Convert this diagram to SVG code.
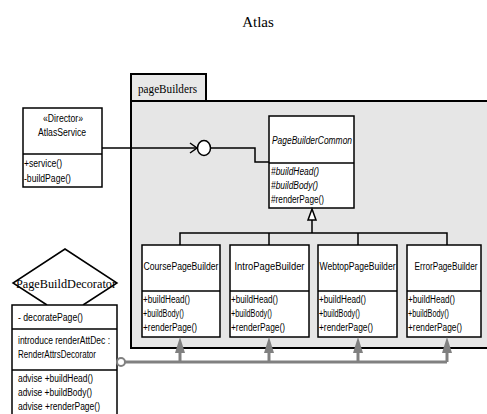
<svg xmlns="http://www.w3.org/2000/svg" width="487" height="414" viewBox="0 0 487 414">
<style>
.box{fill:#fff;stroke:#000;stroke-width:1.5}
.ln{fill:none;stroke:#000;stroke-width:1.5}
.t{font-family:"Liberation Sans",Arial,sans-serif;font-size:10px;fill:#000}
.ti{font-family:"Liberation Sans",Arial,sans-serif;font-size:10px;font-style:italic;fill:#000}
.s{font-family:"Liberation Serif","Times New Roman",serif;fill:#000}
.g{fill:none;stroke:#808080;stroke-width:3}
.gh{fill:#808080;stroke:none}
</style>
<rect width="487" height="414" fill="#fff"/>
<text class="s" x="258" y="27" font-size="15" text-anchor="middle">Atlas</text>

<g id="pageBuilders">
<rect x="131" y="74" width="75" height="27" fill="#e8e8e8" stroke="#000" stroke-width="2"/>
<rect x="131" y="101" width="360" height="247" fill="#e6e6e6" stroke="#000" stroke-width="2"/>
<text class="s" x="138" y="93" font-size="11.5" textLength="59" lengthAdjust="spacingAndGlyphs">pageBuilders</text>
</g>

<g id="AtlasService">
<rect class="box" x="23" y="108" width="79" height="79"/>
<line class="ln" x1="23" y1="154" x2="102" y2="154"/>
<text class="t" x="63" y="122" text-anchor="middle" textLength="40" lengthAdjust="spacingAndGlyphs">«Director»</text>
<text class="t" x="62" y="136" text-anchor="middle" textLength="48" lengthAdjust="spacingAndGlyphs">AtlasService</text>
<text class="t" x="24" y="167" textLength="38" lengthAdjust="spacingAndGlyphs">+service()</text>
<text class="t" x="24" y="182" textLength="47" lengthAdjust="spacingAndGlyphs">-buildPage()</text>
</g>

<g id="PageBuilderCommon">
<rect class="box" x="269" y="116" width="85" height="92"/>
<line class="ln" x1="269" y1="163" x2="354" y2="163"/>
<text class="ti" x="272" y="144" textLength="80" lengthAdjust="spacingAndGlyphs">PageBuilderCommon</text>
<text class="ti" x="271" y="175" textLength="48" lengthAdjust="spacingAndGlyphs">#buildHead()</text>
<text class="ti" x="271" y="189" textLength="47" lengthAdjust="spacingAndGlyphs">#buildBody()</text>
<text class="t" x="271" y="203" textLength="53" lengthAdjust="spacingAndGlyphs">#renderPage()</text>
</g>

<g id="CoursePageBuilder">
<rect class="box" x="142" y="245" width="78" height="92"/>
<line class="ln" x1="142" y1="291" x2="220" y2="291"/>
<text class="t" x="181" y="270" text-anchor="middle" textLength="75" lengthAdjust="spacingAndGlyphs">CoursePageBuilder</text>
<text class="t" x="143" y="303" textLength="47" lengthAdjust="spacingAndGlyphs">+buildHead()</text>
<text class="t" x="143" y="317" textLength="41" lengthAdjust="spacingAndGlyphs">+buildBody()</text>
<text class="t" x="143" y="331" textLength="54" lengthAdjust="spacingAndGlyphs">+renderPage()</text>
</g>

<g id="IntroPageBuilder">
<rect class="box" x="230" y="245" width="79" height="92"/>
<line class="ln" x1="230" y1="291" x2="309" y2="291"/>
<text class="t" x="269.5" y="270" text-anchor="middle" textLength="70" lengthAdjust="spacingAndGlyphs">IntroPageBuilder</text>
<text class="t" x="231" y="303" textLength="47" lengthAdjust="spacingAndGlyphs">+buildHead()</text>
<text class="t" x="231" y="317" textLength="41" lengthAdjust="spacingAndGlyphs">+buildBody()</text>
<text class="t" x="231" y="331" textLength="54" lengthAdjust="spacingAndGlyphs">+renderPage()</text>
</g>

<g id="WebtopPageBuilder">
<rect class="box" x="318" y="245" width="79" height="92"/>
<line class="ln" x1="318" y1="291" x2="397" y2="291"/>
<text class="t" x="357.5" y="270" text-anchor="middle" textLength="76" lengthAdjust="spacingAndGlyphs">WebtopPageBuilder</text>
<text class="t" x="319" y="303" textLength="47" lengthAdjust="spacingAndGlyphs">+buildHead()</text>
<text class="t" x="319" y="317" textLength="41" lengthAdjust="spacingAndGlyphs">+buildBody()</text>
<text class="t" x="319" y="331" textLength="54" lengthAdjust="spacingAndGlyphs">+renderPage()</text>
</g>

<g id="ErrorPageBuilder">
<rect class="box" x="407" y="245" width="74" height="92"/>
<line class="ln" x1="407" y1="291" x2="481" y2="291"/>
<text class="t" x="446" y="270" text-anchor="middle" textLength="63" lengthAdjust="spacingAndGlyphs">ErrorPageBuilder</text>
<text class="t" x="408" y="303" textLength="47" lengthAdjust="spacingAndGlyphs">+buildHead()</text>
<text class="t" x="408" y="317" textLength="41" lengthAdjust="spacingAndGlyphs">+buildBody()</text>
<text class="t" x="408" y="331" textLength="54" lengthAdjust="spacingAndGlyphs">+renderPage()</text>
</g>

<g id="PageBuildDecorator">
<path d="M65,249 L117,283 L83,305 L47,305 L13,283 Z" fill="#fff" stroke="none"/>
<path d="M47,305 L13,283 L65,249 L117,283 L83,305" fill="none" stroke="#000" stroke-width="1.5"/>
<text class="s" x="66" y="288" font-size="13" text-anchor="middle" textLength="100" lengthAdjust="spacingAndGlyphs">PageBuildDecorator</text>
<rect class="box" x="12" y="305" width="105" height="115"/>
<line class="ln" x1="12" y1="329" x2="117" y2="329"/>
<line class="ln" x1="12" y1="370" x2="117" y2="370"/>
<text class="t" x="18" y="321" textLength="65" lengthAdjust="spacingAndGlyphs">- decoratePage()</text>
<text class="t" x="18" y="344" textLength="92" lengthAdjust="spacingAndGlyphs">introduce renderAttDec :</text>
<text class="t" x="18" y="358" textLength="78" lengthAdjust="spacingAndGlyphs">RenderAttrsDecorator</text>
<text class="t" x="18" y="382" textLength="75" lengthAdjust="spacingAndGlyphs">advise +buildHead()</text>
<text class="t" x="18" y="396" textLength="74" lengthAdjust="spacingAndGlyphs">advise +buildBody()</text>
<text class="t" x="18" y="410" textLength="82" lengthAdjust="spacingAndGlyphs">advise +renderPage()</text>
</g>

<g id="connectors">
<polyline class="ln" points="102,148 197,148"/>
<polyline class="ln" points="190,143 197,148 190,153"/>
<ellipse cx="204" cy="148" rx="6.5" ry="7.5" fill="#fff" stroke="#000" stroke-width="1.5"/>
<polyline class="ln" points="211,148 255,148 255,162 269,162"/>
<path d="M312,209 L308,220 L316,220 Z" fill="#fff" stroke="#000" stroke-width="1.5"/>
<polyline class="ln" points="312,220 312,233"/>
<polyline class="ln" points="180,245 180,233 447,233 447,245"/>
<line class="ln" x1="269" y1="233" x2="269" y2="245"/>
<line class="ln" x1="358" y1="233" x2="358" y2="245"/>
<polyline class="g" points="125,362 447,362"/>
<line class="g" x1="180" y1="362" x2="180" y2="350"/>
<line class="g" x1="269" y1="362" x2="269" y2="350"/>
<line class="g" x1="358" y1="362" x2="358" y2="350"/>
<line class="g" x1="447" y1="362" x2="447" y2="350"/>
<path class="gh" d="M180,337 L175,353 L185,353 Z"/>
<path class="gh" d="M269,337 L264,353 L274,353 Z"/>
<path class="gh" d="M358,337 L353,353 L363,353 Z"/>
<path class="gh" d="M447,337 L442,353 L452,353 Z"/>
<circle cx="121" cy="362" r="4" fill="#fff" stroke="#808080" stroke-width="2"/>
</g>
</svg>
